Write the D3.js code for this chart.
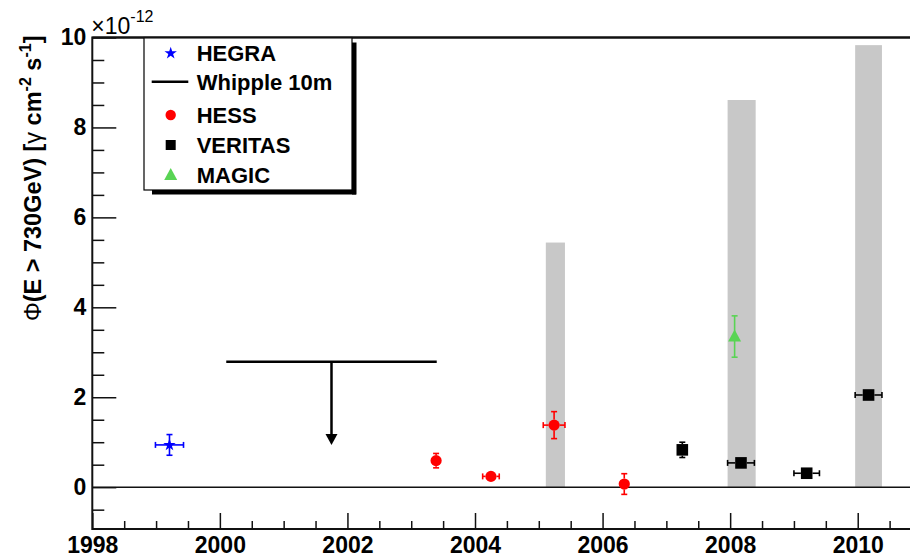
<!DOCTYPE html>
<html><head><meta charset="utf-8">
<script src="https://cdn.jsdelivr.net/npm/d3@7"></script>
<style>
html,body{margin:0;padding:0;background:#fff;}
svg{display:block;}
text{font-family:"Liberation Sans",Arial,Helvetica,sans-serif;}
</style></head>
<body>
<svg id="chart" width="910" height="554"></svg>
<script>
// ---------------- data ----------------
const yearTicks = [1998, 2000, 2002, 2004, 2006, 2008, 2010];
const fluxTicks = [0, 2, 4, 6, 8, 10];

// gray shaded periods
const barStart = [2005.11, 2007.96, 2009.96];
const barEnd   = [2005.41, 2008.40, 2010.38];
const barTop   = [5.44, 8.61, 9.83];

// HEGRA
const hegraX = [1999.21];
const hegraY = [0.94];
const hegraXErr = [0.22];
const hegraYErr = [0.23];

// Whipple 10m upper limit
const whippleX = [2000.10, 2003.40];
const whippleY = [2.79];
const whippleArrowTo = [0.94];

// HESS
const hessX = [2003.39, 2004.25, 2005.24, 2006.34];
const hessY = [0.59, 0.24, 1.38, 0.07];
const hessXErr = [0.04, 0.13, 0.17, 0.04];
const hessYErr = [0.16, 0.04, 0.30, 0.23];

// VERITAS
const veritasX = [2007.25, 2008.17, 2009.20, 2010.17];
const veritasY = [0.83, 0.54, 0.31, 2.05];
const veritasXErr = [0.04, 0.21, 0.20, 0.21];
const veritasYErr = [0.17, 0.06, 0.06, 0.08];

// MAGIC
const magicX = [2008.07];
const magicY = [3.35];
const magicXErr = [0.03];
const magicYErr = [0.46];

const legendLabels = ["HEGRA", "Whipple 10m", "HESS", "VERITAS", "MAGIC"];

// ---------------- layout ----------------
const L = 92.3, R = 921.5, T = 37.5, B = 529;
const svg = d3.select("#chart");
const x = d3.scaleLinear().domain([1998, 2011]).range([L, R]);
const y = d3.scaleLinear().domain([-0.93, 10]).range([B, T]);
const FONT = 22;

// gray bars
svg.append("g").selectAll("rect").data(barStart.map((s,i)=>({s, e:barEnd[i], t:barTop[i]})))
  .join("rect")
  .attr("x", d=>x(d.s)).attr("width", d=>x(d.e)-x(d.s))
  .attr("y", d=>y(d.t)).attr("height", d=>y(0)-y(d.t))
  .attr("fill", "#c8c8c8");

// zero line
svg.append("line").attr("x1", L).attr("x2", R).attr("y1", y(0)).attr("y2", y(0))
  .attr("stroke", "#111").attr("stroke-width", 1.6);

// axes
const yMinor = d3.range(-0.5, 10.01, 0.5).filter(v => Math.abs(v % 2) > 1e-6);
const xMinor = d3.range(1998.5, 2011, 0.5).filter(v => Math.abs(v % 2) > 1e-6);

const gyMinor = svg.append("g").attr("transform", `translate(${L},0)`)
  .call(d3.axisLeft(y).tickValues(yMinor).tickSize(-12).tickFormat(""));
const gy = svg.append("g").attr("transform", `translate(${L},0)`)
  .call(d3.axisLeft(y).tickValues(fluxTicks).tickSize(-24).tickPadding(6).tickFormat(d3.format("d")));
const gxMinor = svg.append("g").attr("transform", `translate(0,${B})`)
  .call(d3.axisBottom(x).tickValues(xMinor).tickSize(-8).tickFormat(""));
const gx = svg.append("g").attr("transform", `translate(0,${B})`)
  .call(d3.axisBottom(x).tickValues(yearTicks).tickSize(-16).tickPadding(8).tickFormat(d3.format("d")));

[gyMinor, gy, gxMinor, gx].forEach(g => {
  g.select(".domain").remove();
  g.selectAll(".tick line").attr("stroke", "#111").attr("stroke-width", 1.5);
  g.selectAll(".tick text").attr("font-size", FONT + 1).attr("font-weight", "bold")
    .attr("fill", "#000").attr("font-family", "Liberation Sans, Arial, sans-serif");
});

// frame
svg.append("rect").attr("x", L).attr("y", T).attr("width", R-L).attr("height", B-T)
  .attr("fill", "none").attr("stroke", "#111").attr("stroke-width", 2);

// exponent label
const ex = svg.append("text").attr("x", L - 1).attr("y", 34).attr("font-size", 23)
  .attr("fill", "#000");
ex.append("tspan").text("\u00d710");
ex.append("tspan").attr("font-size", 16).attr("dy", -12).text("-12");

// y title
const yt = svg.append("text").attr("transform", `translate(41,${T-2}) rotate(-90)`)
  .attr("text-anchor", "end").attr("font-size", 23.5).attr("font-weight", "bold").attr("fill", "#000");
yt.append("tspan").attr("font-weight", "normal").text("\u03a6");
yt.append("tspan").text("(E > 730GeV) [");
yt.append("tspan").attr("font-weight", "normal").text("\u03b3");
yt.append("tspan").text(" cm");
yt.append("tspan").attr("font-size", 16).attr("dy", -10).text("-2");
yt.append("tspan").attr("dy", 10).text(" s");
yt.append("tspan").attr("font-size", 16).attr("dy", -10).text("-1");
yt.append("tspan").attr("dy", 10).text("]");

// ---------------- helpers ----------------
function errorBars(g, xs, ys, xe, ye, color, half) {
  const cap = 3;
  xs.forEach((xv, i) => {
    const cx = x(xv), cy = y(ys[i]);
    const dxr = x(xv + xe[i]) - cx, dyu = cy - y(ys[i] + ye[i]);
    const segs = [];
    if (dxr > half) {
      segs.push([cx - dxr, cy, cx - half, cy], [cx + half, cy, cx + dxr, cy]);
      segs.push([cx - dxr, cy - cap, cx - dxr, cy + cap], [cx + dxr, cy - cap, cx + dxr, cy + cap]);
    }
    if (dyu > half) {
      segs.push([cx, cy - dyu, cx, cy - half], [cx, cy + half, cx, cy + dyu]);
      segs.push([cx - cap, cy - dyu, cx + cap, cy - dyu], [cx - cap, cy + dyu, cx + cap, cy + dyu]);
    }
    g.selectAll(null).data(segs).join("line")
      .attr("x1", d=>d[0]).attr("y1", d=>d[1]).attr("x2", d=>d[2]).attr("y2", d=>d[3])
      .attr("stroke", color).attr("stroke-width", 1.6);
  });
}
const starPath = d3.symbol().type(d3.symbolStar).size(48)();
const trianglePath = "M0,-7L6.5,5L-6.5,5Z";

// HEGRA
const gH = svg.append("g");
errorBars(gH, hegraX, hegraY, hegraXErr, hegraYErr, "#0000ff", 0);
gH.selectAll("path").data(hegraX).join("path").attr("d", starPath)
  .attr("transform", (d,i)=>`translate(${x(d)},${y(hegraY[i])})`).attr("fill", "#0000ff");

// Whipple
const gW = svg.append("g");
gW.append("line").attr("x1", x(whippleX[0])).attr("x2", x(whippleX[1]))
  .attr("y1", y(whippleY[0])).attr("y2", y(whippleY[0])).attr("stroke", "#000").attr("stroke-width", 2.5);
const xm = x((whippleX[0] + whippleX[1]) / 2);
gW.append("line").attr("x1", xm).attr("x2", xm).attr("y1", y(whippleY[0]))
  .attr("y2", y(whippleArrowTo[0]) - 8).attr("stroke", "#000").attr("stroke-width", 2.5);
gW.append("path").attr("d", `M${xm-6},${y(whippleArrowTo[0])-11}L${xm+6},${y(whippleArrowTo[0])-11}L${xm},${y(whippleArrowTo[0])}Z`)
  .attr("fill", "#000");

// HESS
const gHe = svg.append("g");
errorBars(gHe, hessX, hessY, hessXErr, hessYErr, "#ff0000", 5.5);
gHe.selectAll("circle").data(hessX).join("circle")
  .attr("cx", d=>x(d)).attr("cy", (d,i)=>y(hessY[i])).attr("r", 5.6).attr("fill", "#ff0000");

// VERITAS
const gV = svg.append("g");
errorBars(gV, veritasX, veritasY, veritasXErr, veritasYErr, "#000", 5.8);
gV.selectAll("rect").data(veritasX).join("rect")
  .attr("x", d=>x(d)-5.8).attr("y", (d,i)=>y(veritasY[i])-5.8).attr("width", 11.6).attr("height", 11.6)
  .attr("fill", "#000");

// MAGIC
const gM = svg.append("g");
errorBars(gM, magicX, magicY, magicXErr, magicYErr, "#59d454", 4);
gM.selectAll("path").data(magicX).join("path").attr("d", trianglePath)
  .attr("transform", (d,i)=>`translate(${x(d)},${y(magicY[i])})`).attr("fill", "#59d454");

// ---------------- legend ----------------
const lg = svg.append("g");
const LX = 144, LY = T, LW = 208, LH = 152.5;
lg.append("rect").attr("x", LX + 8).attr("y", LY + LH).attr("width", LW - 4).attr("height", 4.5).attr("fill", "#000");
lg.append("rect").attr("x", LX + LW).attr("y", LY + 5).attr("width", 4.5).attr("height", LH - 0.5).attr("fill", "#000");
lg.append("rect").attr("x", LX).attr("y", LY).attr("width", LW).attr("height", LH)
  .attr("fill", "#fff").attr("stroke", "#000").attr("stroke-width", 1.2);
const rowsY = [53.3, 81.7, 115, 145, 175];
const mx = 170.7;
lg.append("path").attr("d", starPath).attr("transform", `translate(${mx},${rowsY[0]})`).attr("fill", "#0000ff");
lg.append("line").attr("x1", 151.7).attr("x2", 188.3).attr("y1", rowsY[1]).attr("y2", rowsY[1])
  .attr("stroke", "#000").attr("stroke-width", 2.5);
lg.append("circle").attr("cx", mx).attr("cy", rowsY[2]).attr("r", 5.2).attr("fill", "#ff0000");
lg.append("rect").attr("x", mx-5).attr("y", rowsY[3]-5).attr("width", 10).attr("height", 10).attr("fill", "#000");
lg.append("path").attr("d", trianglePath).attr("transform", `translate(${mx},${rowsY[4]})`).attr("fill", "#59d454");
lg.selectAll("text.lab").data(legendLabels).join("text").attr("class", "lab")
  .attr("x", 196.7).attr("y", (d,i)=>rowsY[i]).attr("dy", "0.36em")
  .attr("font-size", FONT).attr("font-weight", "bold").attr("fill", "#000").text(d=>d);

// frame top edge redrawn over legend
svg.append("line").attr("x1", L).attr("x2", R).attr("y1", T).attr("y2", T).attr("stroke", "#111").attr("stroke-width", 2);
</script>
</body></html>
